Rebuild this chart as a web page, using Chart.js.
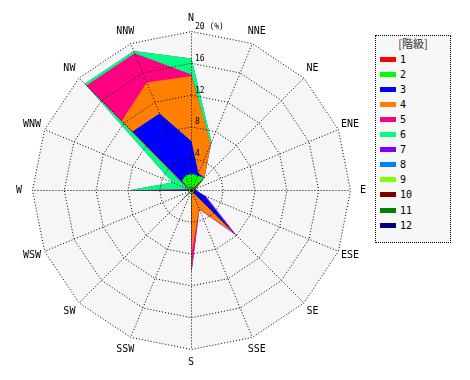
<!DOCTYPE html>
<html>
<head>
<meta charset="utf-8">
<script src="https://cdn.jsdelivr.net/npm/chart.js@4"></script>
<style>
  body { margin: 0; background: #fff; }
  #wrap { position: relative; width: 470px; height: 380px; }
  #rose { position: absolute; left: 0; top: 0; }
  #legend {
    position: absolute; left: 375px; top: 35px; width: 76px; height: 208px;
    box-sizing: border-box; border: 1px dotted #000; background: #f7f7f7;
    font-family: 'DejaVu Sans Mono', monospace; font-size: 10px; color: #000;
  }
  #legend .title {
    position: absolute; left: 0; top: 0; width: 100%; text-align: center;
    font-family: 'Noto Sans CJK JP', sans-serif; font-size: 11px; line-height: 13px; color: #333;
  }
  #legend .row { position: absolute; left: 4px; height: 14px; display: flex; align-items: center; }
  #legend .bar { width: 16px; height: 5px; margin-right: 4px; }
</style>
</head>
<body>
<div id="wrap">
  <canvas id="rose" width="470" height="380"></canvas>
  <div id="legend"></div>
</div>
<script>
// wind directions, clockwise from north
const directions = ['N', 'NNE', 'NE', 'ENE', 'E', 'ESE', 'SE', 'SSE', 'S', 'SSW', 'SW', 'WSW', 'W', 'WNW', 'NW', 'NNW'];
const classNames = ['1', '2', '3', '4', '5', '6', '7', '8', '9', '10', '11', '12'];

// frequency (%) per class and direction
const class1 = [0.3, 0.2, 2.2, 0.3, 0.3, 0.2, 0.2, 0, 0.1, 0, 0.1, 0, 0.2, 0.2, 0.2, 0.2];
const class2 = [1.8, 1.8, 0.1, 0.2, 0.1, 0.1, 0.1, 0.1, 3.8, 0.1, 1.9, 0.1, 0.3, 0.1, 1.5, 1.8];
const class3 = [4.1, 0.3, 0, 0.1, 0.2, 1.5, 7.0, 0, 4.1, 0, 0, 0, 7.3, 0, 8.8, 8.5];
const class4 = [8.2, 4.0, 0, 0, 0, 0, 0.2, 2.4, 0, 0, 0, 0, 0.1, 0.1, 1.9, 4.2];
const class5 = [0.2, 0, 0, 0, 0, 0, 0, 0.1, 2.3, 0, 0, 0, 0, 0.1, 6.3, 4.0];
const class6 = [2.0, 0.3, 0, 0, 0, 0, 0, 0, 0, 0, 0, 0, 0.1, 2.1, 0.3, 0.3];
const class7 = [0, 0, 0, 0, 0, 0.2, 0.6, 0, 0, 0, 0, 0, 0, 0, 0, 0];
const class8 = [0, 0, 0, 0, 0, 0, 0, 0, 0, 0, 0, 0, 0, 0, 0, 0];
const class9 = [0, 0, 0, 0, 0, 0, 0, 0, 0, 0, 0, 0, 0, 0, 0, 0];
const class10 = [0, 0, 0, 0, 0, 0, 0, 0, 0, 0, 0, 0, 0, 0, 0, 0];
const class11 = [0, 0, 0, 0, 0, 0, 0, 0, 0, 0, 0, 0, 0, 0, 0, 0];
const class12 = [0, 0, 0, 0, 0, 0, 0, 0, 0, 0, 0, 0, 0, 0, 0, 0];

const tickValues = [4, 8, 12, 16, 20];
const tickLabels = ['4', '8', '12', '16', '20 (%)'];
const legendTitle = '[階級]';

const classColors = ['#ff0000', '#00ff00', '#0000ff', '#ff8000', '#ff0080', '#00ff80',
                     '#8000ff', '#0080ff', '#80ff00', '#800000', '#008000', '#000080'];

const classValues = [class1, class2, class3, class4, class5, class6,
                     class7, class8, class9, class10, class11, class12];

// stack the classes: each polygon is the running total, class 1 drawn on top
let running = directions.map(() => 0);
const datasets = classValues.map((vals, k) => {
    running = running.map((s, i) => s + vals[i]);
    return {
        label: classNames[k],
        data: running.slice(),
        backgroundColor: classColors[k],
        borderColor: 'rgba(0,0,0,0)',
        borderWidth: 0,
        pointRadius: 0,
        fill: 'origin',
        hidden: vals.every(v => v === 0)
    };
});

// legend box
const legendBox = document.getElementById('legend');
const titleEl = document.createElement('div');
titleEl.className = 'title';
titleEl.style.top = '1px';
titleEl.textContent = legendTitle;
legendBox.appendChild(titleEl);
classNames.forEach((name, k) => {
    const row = document.createElement('div');
    row.className = 'row';
    row.style.top = (16 + k * 15.1) + 'px';
    row.innerHTML = '<span class="bar" style="background:' + classColors[k] + '"></span><span>' + name + '</span>';
    legendBox.appendChild(row);
});

const roseDecor = {
    id: 'roseDecor',
    beforeDraw(chart) {
        chart.ctx.save();
        chart.ctx.translate(0.5, 0.5);
    },
    beforeDatasetsDraw(chart) {
        const scale = chart.scales.r;
        const ctx = chart.ctx;
        ctx.save();
        ctx.fillStyle = '#f6f6f6';
        ctx.beginPath();
        directions.forEach((d, i) => {
            const p = scale.getPointPositionForValue(i, scale.max);
            if (i === 0) ctx.moveTo(p.x, p.y); else ctx.lineTo(p.x, p.y);
        });
        ctx.closePath();
        ctx.fill();
        ctx.restore();
    },
    afterDraw(chart) {
        const ctx = chart.ctx;
        ctx.restore();
        const scale = chart.scales.r;
        ctx.save();
        ctx.fillStyle = '#000';
        ctx.font = '10px "DejaVu Sans Mono", monospace';
        ctx.textAlign = 'center';
        ctx.textBaseline = 'middle';
        directions.forEach((d, i) => {
            const p = scale.getPointPosition(i, scale.drawingArea + 13);
            ctx.fillText(d, p.x, p.y);
        });
        ctx.font = '8px "DejaVu Sans Mono", monospace';
        ctx.textAlign = 'left';
        ctx.textBaseline = 'bottom';
        tickValues.forEach((v, i) => {
            const r = scale.getDistanceFromCenterForValue(v);
            ctx.fillText(tickLabels[i], scale.xCenter + 4, scale.yCenter - r);
        });
        ctx.restore();
    }
};

new Chart(document.getElementById('rose'), {
    type: 'radar',
    data: { labels: directions, datasets: datasets },
    options: {
        responsive: false,
        animation: false,
        layout: { padding: { left: 32, right: 120, top: 31, bottom: 31 } },
        plugins: { legend: { display: false }, tooltip: { enabled: false } },
        scales: {
            r: {
                min: 0,
                max: 20,
                ticks: { display: false, stepSize: 4 },
                pointLabels: { display: false },
                grid: { color: '#000', lineWidth: 1, circular: false, z: 1 },
                border: { dash: [1, 2] },
                angleLines: { display: true, color: '#000', lineWidth: 1, borderDash: [1, 2] }
            }
        }
    },
    plugins: [roseDecor]
});
</script>
</body>
</html>
